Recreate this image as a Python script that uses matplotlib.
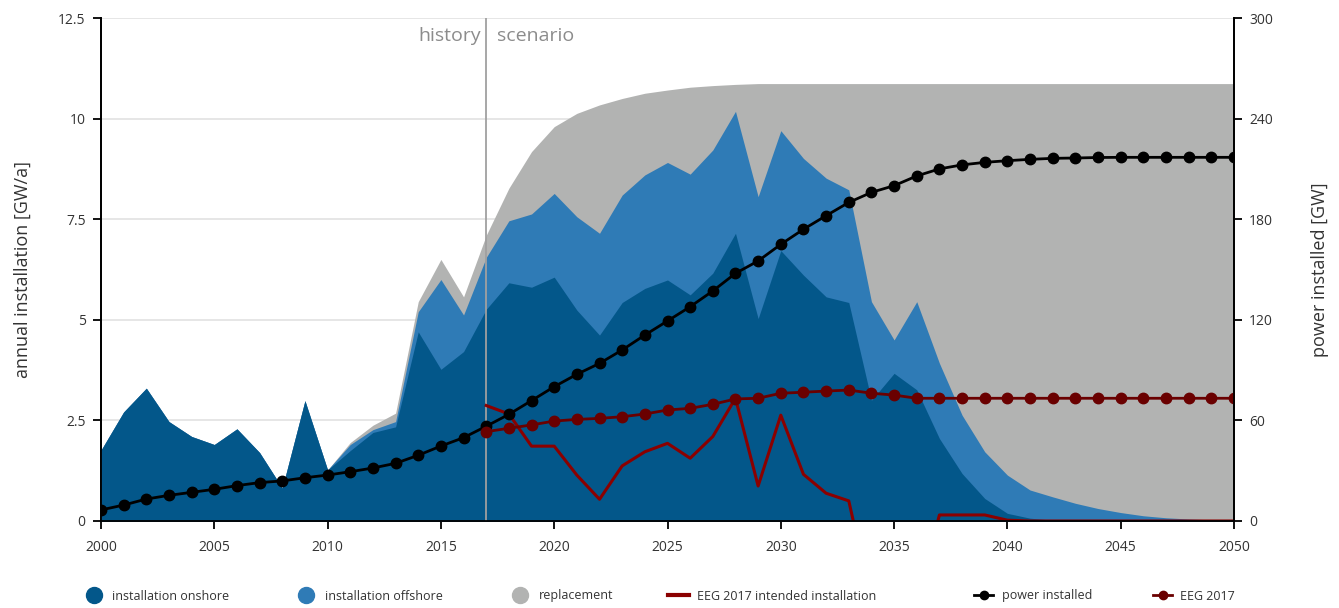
import numpy as np
import matplotlib
matplotlib.use("Agg")
import matplotlib.pyplot as plt
from matplotlib.lines import Line2D

plt.rcParams['font.family'] = ['Open Sans', 'DejaVu Sans']

years = np.arange(2000, 2051)

# annual installation [GW/a], stacked: onshore, offshore, replacement (top of stack given)
onshore = [1.76, 2.71, 3.30, 2.47, 2.10, 1.90, 2.29, 1.70, 0.82, 2.99,
           1.27, 1.75, 2.20, 2.34, 4.70, 3.77, 4.21, 5.26, 5.92, 5.81,
           6.06, 5.24, 4.62, 5.43, 5.78, 5.99, 5.62, 6.16, 7.15, 5.03,
           6.72, 6.11, 5.57, 5.43, 3.00, 3.67, 3.26, 2.05, 1.18, 0.56,
           0.19, 0.07, 0.02, 0.01, 0.0, 0.0, 0.0, 0.0, 0.0, 0.0, 0.0]
offshore_top = [1.76, 2.71, 3.30, 2.47, 2.10, 1.90, 2.29, 1.70, 0.82, 2.99,
                1.27, 1.90, 2.27, 2.47, 5.20, 6.00, 5.12, 6.55, 7.46, 7.63,
                8.14, 7.56, 7.15, 8.10, 8.60, 8.91, 8.62, 9.22, 10.18, 8.06,
                9.70, 9.01, 8.52, 8.23, 5.45, 4.50, 5.45, 3.92, 2.63, 1.72,
                1.14, 0.77, 0.60, 0.44, 0.31, 0.21, 0.13, 0.08, 0.05, 0.03, 0.02]
replacement_top = [1.76, 2.71, 3.30, 2.47, 2.10, 1.90, 2.29, 1.70, 0.82, 2.99,
                   1.27, 1.95, 2.38, 2.68, 5.45, 6.50, 5.57, 7.10, 8.27, 9.18,
                   9.80, 10.13, 10.34, 10.50, 10.63, 10.71, 10.78, 10.82, 10.85, 10.87,
                   10.87, 10.87, 10.87, 10.87, 10.87, 10.87, 10.87, 10.87, 10.87, 10.87,
                   10.87, 10.87, 10.87, 10.87, 10.87, 10.87, 10.87, 10.87, 10.87, 10.87, 10.87]

# EEG 2017 intended installation [GW/a] (2017-2050), negative values fall below the axis
eeg_years = np.arange(2017, 2051)
eeg_intended = [2.87, 2.66, 1.86, 1.86, 1.14, 0.54, 1.37, 1.72, 1.93, 1.56,
                2.10, 3.05, 0.87, 2.63, 1.16, 0.69, 0.50, -2.0, -2.0, -2.0,
                0.15, 0.15, 0.15, 0.02, 0.0, 0.0, 0.0, 0.0, 0.0, 0.0,
                0.0, 0.0, 0.0, 0.0]

# power installed [GW]
power_installed = [6.6, 9.5, 13.1, 15.3, 17.1, 18.9, 21.1, 22.9, 23.9, 25.8,
                   27.4, 29.4, 31.6, 34.4, 39.2, 44.7, 49.7, 56.5, 63.6, 71.8,
                   80.1, 87.5, 94.0, 102.0, 110.9, 119.3, 127.8, 137.2, 147.7, 155.1,
                   165.0, 174.0, 182.1, 190.0, 196.0, 200.0, 205.8, 210.0, 212.4, 213.9,
                   214.9, 215.7, 216.3, 216.5, 216.8, 216.9, 216.9, 216.9, 216.9, 216.9, 216.9]

# EEG 2017 power installed [GW]
eeg_power = [53.3, 55.3, 57.3, 59.6, 60.6, 61.2, 62.2, 63.8, 66.2, 67.2,
             69.6, 72.8, 73.2, 76.2, 76.8, 77.5, 78.1, 76.2, 75.1, 73.2,
             73.2, 73.2, 73.2, 73.2, 73.2, 73.2, 73.2, 73.2, 73.2, 73.2,
             73.2, 73.2, 73.2, 73.2]

c_on = '#03578a'
c_off = '#2f7bb6'
c_rep = '#b2b3b2'
c_red = '#8b0000'
c_eeg = '#6a0000'
c_txt = '#333333'

fig = plt.figure(figsize=(13.39, 6.08), dpi=100)
W, H = 1339, 608
ax = fig.add_axes([101 / W, 1 - 521 / H, (1234 - 101) / W, (521 - 18) / H])
ax2 = ax.twinx()

ax.set_zorder(1)
ax2.set_zorder(2)
ax2.patch.set_visible(False)

ax.fill_between(years, 0, replacement_top, color=c_rep, lw=0, zorder=2)
ax.fill_between(years, 0, offshore_top, color=c_off, lw=0, zorder=3)
ax.fill_between(years, 0, onshore, color=c_on, lw=0, zorder=4)
ax.plot(eeg_years, eeg_intended, color=c_red, lw=2.2, zorder=6)
ax.axvline(2017, color='#a0a0a0', lw=1.3, zorder=5)

ax2.plot(years, power_installed, color='black', lw=2.0, marker='o', ms=7.5)
ax2.plot(eeg_years, eeg_power, color=c_eeg, lw=2.0, marker='o', ms=7.5)

ax.set_xlim(2000, 2050)
ax.set_ylim(0, 12.5)
ax2.set_ylim(0, 300)
ax.set_xticks(np.arange(2000, 2051, 5))
ax.set_yticks([0, 2.5, 5, 7.5, 10, 12.5])
ax.set_yticklabels(['0', '2.5', '5', '7.5', '10', '12.5'])
ax2.set_yticks([0, 60, 120, 180, 240, 300])

ax.grid(axis='y', color='#e4e4e4', lw=1.3, zorder=0)
ax.set_axisbelow(True)

for a in (ax, ax2):
    a.spines['top'].set_visible(False)
    for s in ('left', 'right', 'bottom'):
        a.spines[s].set_linewidth(1.3)
    a.tick_params(direction='out', length=6, width=1.3, labelsize=10, labelcolor=c_txt, pad=5)

ax.set_ylabel('annual installation [GW/a]', fontsize=13, color=c_txt, labelpad=19)
ax2.set_ylabel('power installed [GW]', fontsize=13, color=c_txt, rotation=90, labelpad=27)
ax.tick_params(axis='x', pad=8)

ax.text(2016.78, 12.05, 'history', ha='right', va='center', fontsize=14, color='#8c8c8c', zorder=7)
ax.text(2017.49, 12.05, 'scenario', ha='left', va='center', fontsize=14, color='#8c8c8c', zorder=7)

# legend, one entry per block so the spacing follows the original
handles = [
    Line2D([], [], ls='none', marker='o', ms=11.5, color=c_on),
    Line2D([], [], ls='none', marker='o', ms=11.5, color=c_off),
    Line2D([], [], ls='none', marker='o', ms=11.5, color=c_rep),
    Line2D([], [], color=c_red, lw=3),
    Line2D([], [], color='black', lw=2, marker='o', ms=6),
    Line2D([], [], color=c_eeg, lw=2, marker='o', ms=6),
]
labels = ['installation onshore', 'installation offshore', 'replacement',
          'EEG 2017 intended installation', 'power installed', 'EEG 2017']
xpos = [87.3, 299.8, 513.8, 668, 974, 1153]
hlen = [1.0, 1.0, 1.0, 1.68, 1.52, 1.52]
hpad = [0.98, 0.98, 0.98, 0.64, 0.72, 0.64]
for h, lab, x, hl, hp in zip(handles, labels, xpos, hlen, hpad):
    fig.legend(handles=[h], labels=[lab], loc='center left',
               bbox_to_anchor=(x / W, 1 - 596 / H), frameon=False,
               fontsize=9, handlelength=hl, handletextpad=hp,
               borderpad=0, borderaxespad=0, labelcolor=c_txt)

fig.savefig('out.png', dpi=100)
